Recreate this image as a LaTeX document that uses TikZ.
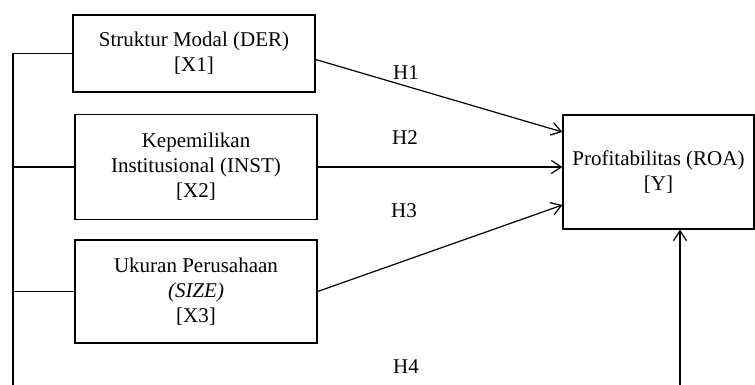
\documentclass[tikz,border=0pt]{standalone}
\usepackage{fontspec}
\setmainfont{Liberation Serif}
\usetikzlibrary{arrows.meta}
\begin{document}
\begin{tikzpicture}
[
    x=1pt, y=-1pt,
    every node/.style={font=\fontsize{21}{25}\selectfont},
    var/.style={draw, line width=1.2pt, align=center, inner sep=0pt, minimum width=242pt},
    link/.style={line width=1.2pt},
    hyp/.style={link, -{Straight Barb[length=10pt,width=13pt]}},
]
\useasboundingbox (0,0) rectangle (755,385);
\node[var, minimum height=77pt] (x1) at (194,53.5) {Struktur Modal (DER)\\ {[X1]}};
\node[var, minimum height=105pt] (x2) at (196,167) {Kepemilikan\\ Institusional (INST)\\ {[X2]}};
\node[var, minimum height=103pt] (x3) at (196,291.5) {Ukuran Perusahaan\\ \textit{(SIZE)}\\ {[X3]}};
\node[var, minimum width=191pt, minimum height=114pt] (y) at (658.5,172) {Profitabilitas (ROA)\\ {[Y]}};
\coordinate (bus) at (13,385);
\coordinate (h4end) at (680,385);
% outer line on the left
\draw[link] (x1.west) -| (bus);
\draw[link] (x2.west) -- (x2.west -| bus);
\draw[link] (x3.west) -- (x3.west -| bus);
% hypotheses
\draw[hyp] ([yshift=-6pt]x1.east) -- ([yshift=40pt]y.west);
\draw[hyp] (x2.east) -- (x2.east -| y.west);
\draw[hyp] (x3.east) -- ([yshift=-33pt]y.west);
\draw[hyp] (h4end) -- (h4end |- y.south);
\node (h1) at (406,73) {H1};
\node (h2) at (405,138) {H2};
\node (h3) at (404,211) {H3};
\node (h4) at (406,367) {H4};
\end{tikzpicture}
\end{document}
